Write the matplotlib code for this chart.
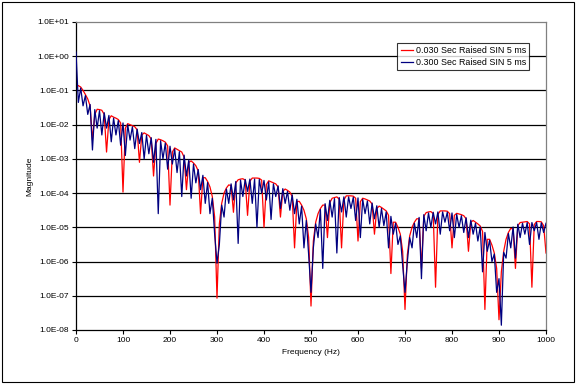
import matplotlib
matplotlib.use('Agg')
import matplotlib.pyplot as plt
from matplotlib.ticker import FixedLocator, FuncFormatter, NullLocator
from matplotlib.patches import Rectangle
import numpy as np

plt.rcParams['font.family'] = ['Liberation Sans', 'DejaVu Sans']

# frequency grid (Hz), 5 Hz steps
freq = np.arange(0, 1005, 5)

# log10(magnitude), 10 points (50 Hz) per row
red_log = [
    -0.85, -0.86, -0.9, -1.0, -1.12, -1.25, -1.45, -2.45, -1.7, -1.55,
    -1.56, -1.58, -1.7, -2.8, -1.85, -1.74, -1.78, -1.81, -1.85, -1.95,
    -3.97, -2.1, -1.97, -2.0, -2.03, -2.06, -2.15, -3.1, -2.3, -2.24,
    -2.28, -2.32, -2.42, -3.5, -2.55, -2.42, -2.44, -2.47, -2.51, -2.62,
    -4.35, -2.8, -2.68, -2.72, -2.76, -2.8, -2.95, -3.9, -3.1, -3.06,
    -3.12, -3.2, -3.35, -4.6, -3.55, -3.55, -3.66, -3.82, -4.1, -4.7,
    -7.07, -4.9, -4.3, -4.0, -3.85, -3.76, -3.78, -4.56, -3.7, -3.61,
    -3.59, -3.58, -3.62, -4.65, -3.65, -3.56, -3.56, -3.56, -3.57, -3.62,
    -5.0, -3.75, -3.64, -3.67, -3.7, -3.73, -3.82, -4.7, -3.95, -3.88,
    -3.92, -3.97, -4.1, -5.6, -4.25, -4.24, -4.35, -4.5, -4.75, -5.3,
    -7.3, -5.4, -4.85, -4.6, -4.45, -4.35, -4.35, -5.3, -4.28, -4.15,
    -4.13, -4.11, -4.18, -5.6, -4.2, -4.08, -4.08, -4.08, -4.09, -4.15,
    -5.4, -4.25, -4.15, -4.17, -4.2, -4.23, -4.32, -5.2, -4.45, -4.38,
    -4.42, -4.47, -4.52, -4.65, -6.35, -4.85, -4.85, -5.0, -5.2, -5.7,
    -7.4, -5.8, -5.25, -5.0, -4.85, -4.75, -4.75, -6.2, -4.68, -4.57,
    -4.55, -4.54, -4.6, -6.75, -4.62, -4.52, -4.52, -4.52, -4.53, -4.6,
    -5.6, -4.65, -4.59, -4.61, -4.63, -4.66, -4.75, -5.7, -4.85, -4.8,
    -4.85, -4.9, -4.96, -5.12, -7.4, -5.35, -5.35, -5.52, -5.75, -6.2,
    -7.7, -6.3, -5.7, -5.35, -5.15, -5.03, -5.05, -6.2, -4.95, -4.86,
    -4.85, -4.84, -4.83, -4.9, -6.75, -4.92, -4.83, -4.83, -4.84, -4.95,
    -5.75,
]

blue_log = [
    0.12, -1.35, -0.93, -1.45, -1.15, -1.7, -1.41, -2.74, -1.56, -2.1,
    -1.59, -2.3, -1.65, -2.1, -1.73, -2.5, -1.81, -2.3, -1.88, -2.6,
    -1.95, -2.9, -2.0, -2.45, -2.06, -2.7, -2.13, -2.55, -2.23, -3.0,
    -2.31, -2.85, -2.38, -3.1, -2.43, -4.6, -2.47, -3.0, -2.54, -3.3,
    -2.63, -3.15, -2.71, -3.4, -2.79, -4.1, -2.89, -3.5, -3.03, -4.15,
    -3.15, -3.7, -3.31, -3.9, -3.48, -4.3, -3.69, -4.6, -4.15, -5.2,
    -6.05, -5.5, -4.35, -4.7, -3.88, -4.3, -3.73, -4.2, -3.66, -5.47,
    -3.62, -4.1, -3.6, -3.95, -3.59, -4.3, -3.59, -5.0, -3.6, -4.0,
    -3.63, -4.2, -3.67, -4.77, -3.73, -4.1, -3.79, -4.45, -3.87, -4.3,
    -3.95, -4.5, -4.05, -4.6, -4.18, -4.9, -4.38, -5.6, -4.8, -5.8,
    -6.9, -5.6, -4.9, -5.3, -4.48, -6.2, -4.31, -4.8, -4.21, -4.7,
    -4.16, -5.75, -4.13, -4.55, -4.11, -4.7, -4.11, -4.45, -4.12, -4.8,
    -4.14, -5.3, -4.18, -4.6, -4.23, -4.9, -4.29, -4.75, -4.37, -5.0,
    -4.45, -4.95, -4.55, -5.6, -4.68, -5.2, -4.88, -5.5, -5.25, -6.1,
    -6.9, -6.0, -5.3, -5.6, -4.88, -5.3, -4.71, -6.5, -4.63, -5.1,
    -4.58, -5.0, -4.56, -4.9, -4.55, -5.2, -4.55, -4.85, -4.56, -5.1,
    -4.58, -5.3, -4.62, -5.0, -4.66, -5.15, -4.72, -5.3, -4.79, -5.2,
    -4.88, -5.4, -4.99, -6.3, -5.15, -5.7, -5.38, -6.0, -5.78, -6.9,
    -6.5, -7.86, -5.73, -5.9, -5.18, -5.6, -4.99, -5.9, -4.91, -5.3,
    -4.88, -5.2, -4.86, -5.5, -4.86, -5.1, -4.86, -5.35, -4.87, -5.15,
    -4.88,
]

red_label = '0.030 Sec Raised SIN 5 ms'
blue_label = '0.300 Sec Raised SIN 5 ms'
y_ticks = [1e-8, 1e-7, 1e-6, 1e-5, 1e-4, 1e-3, 1e-2, 1e-1, 1e0, 1e1]
x_ticks = list(range(0, 1001, 100))

red = 10.0 ** np.array(red_log)
blue = 10.0 ** np.array(blue_log)

fig = plt.figure(figsize=(5.76, 3.84), dpi=100)
fig.patch.set_facecolor('white')
fig.patches.append(Rectangle((0.004, 0.006), 0.992, 0.988, transform=fig.transFigure,
                             fill=False, edgecolor='black', linewidth=0.8))

ax = fig.add_axes([76 / 576, 1 - 330 / 384, 470 / 576, 308 / 384])
ax.set_yscale('log')
ax.set_ylim(1e-8, 1e1)
ax.set_xlim(0, 1000)

for yv in y_ticks[1:-1]:
    ax.axhline(yv, color='black', linewidth=0.9, zorder=1)

ax.plot(freq, red, color='#ff0000', linewidth=0.9, label=red_label, zorder=2)
ax.plot(freq, blue, color='#000080', linewidth=0.9, label=blue_label, zorder=3)

ax.yaxis.set_major_locator(FixedLocator(y_ticks))
ax.yaxis.set_minor_locator(NullLocator())
ax.yaxis.set_major_formatter(FuncFormatter(lambda v, p: f'{v:.1E}'))
ax.set_xticks(x_ticks)
ax.tick_params(axis='both', direction='out', length=3, width=0.8, labelsize=6, colors='black', pad=2)

for side in ('top', 'right'):
    ax.spines[side].set_color('#808080')
for side in ('left', 'bottom'):
    ax.spines[side].set_color('black')
for sp in ax.spines.values():
    sp.set_linewidth(0.9)

ax.set_xlabel('Frequency (Hz)', fontsize=6, labelpad=4)
ax.set_ylabel('Magnitude', fontsize=6, labelpad=3)

leg = ax.legend(loc='upper right', bbox_to_anchor=(0.964, 0.932), borderaxespad=0,
                fontsize=6.4, frameon=True, fancybox=False, handlelength=1.4,
                handletextpad=0.3, borderpad=0.35, labelspacing=0.3)
leg.get_frame().set_edgecolor('black')
leg.get_frame().set_linewidth(0.8)
leg.set_zorder(5)

plt.savefig('out.png', dpi=100, facecolor='white')
